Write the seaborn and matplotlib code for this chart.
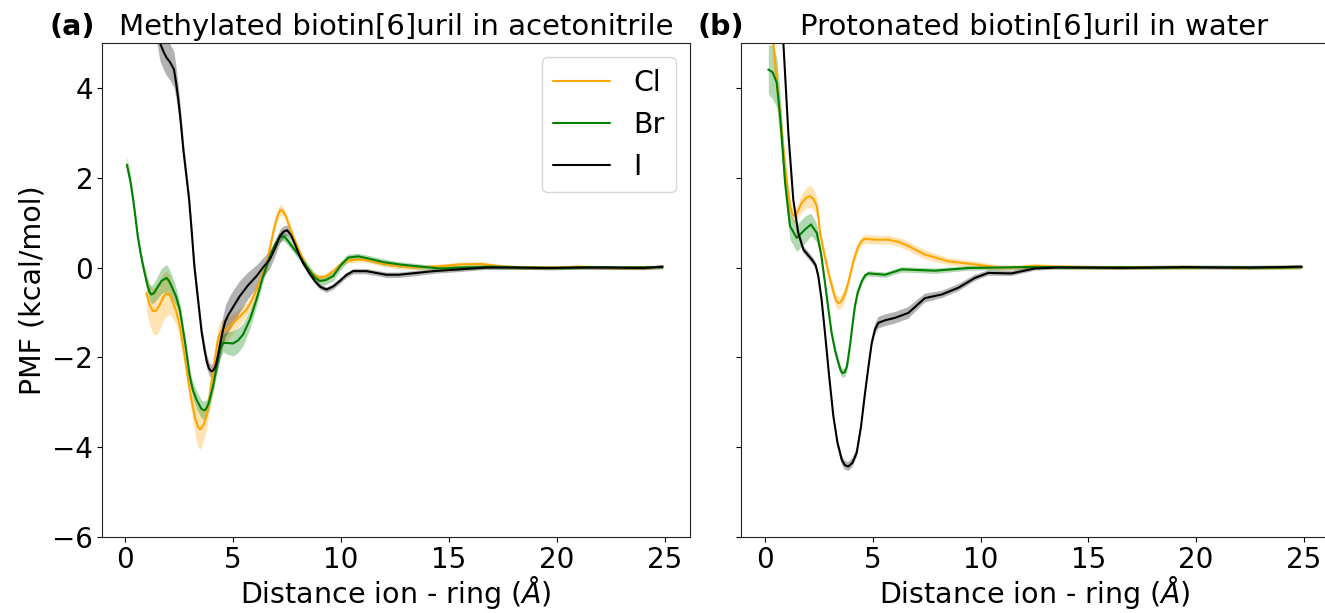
import numpy as np
import pandas as pd
import matplotlib
matplotlib.use("Agg")
import matplotlib.pyplot as plt
import seaborn as sns

# ---------------- data ----------------
ions = ["Cl", "Br", "I"]
colors = {"Cl": "orange", "Br": "green", "I": "black"}

# (a) Methylated biotin[6]uril in acetonitrile
a_cl_x = [1.0, 1.15, 1.3, 1.45, 1.6, 1.78, 1.93, 2.1, 2.25, 2.4, 2.55, 2.75, 2.93, 3.05, 3.15, 3.27, 3.39, 3.47, 3.55, 3.67,
          3.78, 3.9, 4.0, 4.17, 4.33, 4.45, 4.72, 5.0, 5.2, 5.65, 5.9, 6.11, 6.35, 6.57, 6.75, 6.9, 7.05, 7.19, 7.3, 7.45,
          7.6, 7.79, 8.1, 8.41, 8.7, 8.95, 9.3, 9.65, 9.95, 10.26, 10.8, 11.2, 12.0, 12.7, 13.5, 14.6, 15.5, 16.5, 17.5, 18.5,
          20.0, 21.0, 22.0, 23.0, 24.0, 24.9]
a_cl_y = [-0.57, -0.82, -0.97, -0.96, -0.85, -0.66, -0.57, -0.62, -0.8, -1.0, -1.31, -1.9, -2.49, -2.85, -3.1, -3.38, -3.55, -3.6, -3.58, -3.48,
          -3.31, -2.98, -2.6, -2.05, -1.55, -1.42, -1.38, -1.25, -1.15, -0.93, -0.72, -0.48, -0.18, 0.11, 0.5, 0.85, 1.12, 1.28, 1.27, 1.15,
          0.95, 0.70, 0.35, 0.03, -0.15, -0.22, -0.2, -0.08, 0.05, 0.15, 0.18, 0.17, 0.08, 0.03, 0.0, 0.03, 0.07, 0.08, 0.02, 0.0,
          0.0, 0.02, 0.0, -0.01, 0.0, 0.02]
a_cl_e = [0.4, 0.45, 0.5, 0.55, 0.55, 0.52, 0.5, 0.42, 0.35, 0.3, 0.25, 0.22, 0.2, 0.25, 0.3, 0.38, 0.45, 0.45, 0.4, 0.35,
          0.3, 0.27, 0.25, 0.25, 0.25, 0.25, 0.25, 0.22, 0.2, 0.15, 0.13, 0.12, 0.1, 0.1, 0.1, 0.1, 0.11, 0.12, 0.11, 0.1,
          0.09, 0.08, 0.07, 0.06, 0.06, 0.06, 0.06, 0.06, 0.06, 0.06, 0.06, 0.06, 0.06, 0.06, 0.05, 0.05, 0.05, 0.05, 0.05, 0.04,
          0.04, 0.04, 0.04, 0.04, 0.04, 0.04]

a_br_x = [0.1, 0.25, 0.39, 0.5, 0.6, 0.72, 0.85, 1.05, 1.15, 1.23, 1.35, 1.5, 1.7, 1.93, 2.05, 2.2, 2.38, 2.55, 2.8, 3.01,
          3.15, 3.32, 3.55, 3.70, 3.8, 3.9, 4.09, 4.3, 4.42, 4.55, 4.75, 5.01, 5.25, 5.48, 5.8, 6.1, 6.4, 6.71, 7.0, 7.15,
          7.33, 7.5, 7.7, 8.1, 8.6, 8.8, 9.03, 9.3, 9.65, 10.0, 10.34, 10.8, 11.2, 12.0, 12.7, 13.5, 14.6, 15.5, 17.0, 18.5,
          20.0, 21.5, 23.0, 24.9]
a_br_y = [2.29, 1.95, 1.51, 1.1, 0.7, 0.35, 0.03, -0.4, -0.55, -0.6, -0.57, -0.45, -0.3, -0.23, -0.3, -0.45, -0.65, -0.94, -1.7, -2.42,
          -2.72, -2.94, -3.15, -3.18, -3.12, -3.0, -2.64, -2.1, -1.82, -1.68, -1.68, -1.69, -1.62, -1.49, -1.15, -0.71, -0.2, 0.25, 0.55, 0.66,
          0.70, 0.63, 0.5, 0.25, -0.1, -0.22, -0.30, -0.28, -0.19, 0.05, 0.22, 0.25, 0.21, 0.12, 0.07, 0.03, -0.02, 0.0, 0.02, 0.0,
          -0.01, 0.01, 0.0, 0.01]
a_br_e = [0.18, 0.15, 0.12, 0.12, 0.12, 0.12, 0.12, 0.15, 0.18, 0.2, 0.22, 0.25, 0.28, 0.3, 0.28, 0.25, 0.2, 0.15, 0.15, 0.15,
          0.17, 0.2, 0.2, 0.2, 0.19, 0.18, 0.15, 0.18, 0.2, 0.2, 0.25, 0.28, 0.27, 0.25, 0.2, 0.15, 0.12, 0.1, 0.1, 0.1,
          0.1, 0.1, 0.1, 0.1, 0.1, 0.1, 0.1, 0.1, 0.1, 0.1, 0.08, 0.07, 0.07, 0.07, 0.06, 0.06, 0.05, 0.05, 0.05, 0.04,
          0.04, 0.04, 0.04, 0.04]

a_i_x = [0.6, 1.2, 1.63, 1.8, 1.94, 2.1, 2.28, 2.38, 2.48, 2.6, 2.71, 2.85, 2.98, 3.1, 3.22, 3.4, 3.56, 3.7, 3.8, 3.9,
         4.01, 4.1, 4.2, 4.3, 4.40, 4.52, 4.65, 4.8, 4.94, 5.32, 5.7, 6.1, 6.4, 6.71, 6.95, 7.18, 7.35, 7.52, 7.7, 7.9,
         8.08, 8.26, 8.55, 8.8, 9.05, 9.34, 9.65, 9.95, 10.25, 10.57, 11.19, 12.1, 12.7, 13.5, 14.3, 15.5, 16.7, 18.0, 19.5, 21.0,
         22.5, 24.0, 24.9]
a_i_y = [8.5, 6.2, 5.0, 4.8, 4.67, 4.57, 4.41, 4.1, 3.74, 3.2, 2.63, 2.05, 1.51, 0.8, 0.04, -0.75, -1.44, -1.85, -2.1, -2.25,
         -2.31, -2.29, -2.2, -2.0, -1.75, -1.45, -1.2, -1.05, -0.94, -0.64, -0.4, -0.19, 0.0, 0.18, 0.42, 0.70, 0.8, 0.83, 0.72, 0.5,
         0.28, 0.10, -0.13, -0.3, -0.43, -0.49, -0.42, -0.30, -0.17, -0.08, -0.08, -0.16, -0.16, -0.12, -0.08, -0.04, 0.0, 0.0, -0.01, 0.0,
         0.0, -0.01, 0.02]
a_i_e = [0.4, 0.4, 0.4, 0.4, 0.4, 0.4, 0.4, 0.35, 0.3, 0.25, 0.2, 0.17, 0.15, 0.15, 0.15, 0.15, 0.15, 0.15, 0.15, 0.15,
         0.15, 0.17, 0.2, 0.25, 0.3, 0.33, 0.35, 0.37, 0.38, 0.35, 0.3, 0.25, 0.22, 0.2, 0.17, 0.15, 0.13, 0.12, 0.1, 0.08,
         0.07, 0.07, 0.06, 0.06, 0.06, 0.06, 0.06, 0.06, 0.06, 0.06, 0.06, 0.06, 0.06, 0.06, 0.05, 0.05, 0.04, 0.04, 0.04, 0.04,
         0.04, 0.04, 0.04]

# (b) Protonated biotin[6]uril in water
b_cl_x = [0.1, 0.38, 0.62, 0.93, 1.05, 1.16, 1.27, 1.39, 1.55, 1.70, 1.9, 2.09, 2.25, 2.40, 2.48, 2.55, 2.75, 2.94, 3.2, 3.30,
          3.40, 3.5, 3.6, 3.73, 3.86, 4.1, 4.33, 4.5, 4.64, 5.10, 5.72, 6.2, 6.65, 7.42, 8.50, 9.74, 10.82, 11.6, 12.52, 13.5,
          15.0, 16.5, 18.0, 19.5, 21.0, 22.5, 24.0, 24.9]
b_cl_y = [7.5, 5.0, 3.74, 2.26, 1.75, 1.37, 1.18, 1.14, 1.28, 1.44, 1.55, 1.59, 1.52, 1.37, 1.1, 0.77, 0.3, -0.12, -0.6, -0.74,
          -0.79, -0.77, -0.7, -0.55, -0.34, 0.15, 0.48, 0.6, 0.64, 0.62, 0.62, 0.57, 0.48, 0.29, 0.14, 0.07, 0.0, 0.0, 0.04, 0.02,
          0.01, 0.0, 0.01, 0.0, 0.01, -0.01, 0.0, 0.01]
b_cl_e = [0.3, 0.3, 0.3, 0.25, 0.2, 0.18, 0.16, 0.15, 0.17, 0.2, 0.23, 0.25, 0.23, 0.2, 0.15, 0.12, 0.12, 0.12, 0.14, 0.15,
          0.15, 0.15, 0.14, 0.13, 0.12, 0.1, 0.1, 0.1, 0.1, 0.1, 0.1, 0.1, 0.1, 0.1, 0.08, 0.07, 0.06, 0.05, 0.05, 0.05,
          0.04, 0.04, 0.04, 0.04, 0.04, 0.04, 0.04, 0.04]

b_br_x = [0.15, 0.35, 0.54, 0.70, 0.93, 1.16, 1.47, 1.86, 2.13, 2.40, 2.6, 2.78, 2.93, 3.09, 3.25, 3.40, 3.5, 3.59, 3.7, 3.8,
          3.95, 4.05, 4.17, 4.3, 4.49, 4.65, 4.79, 5.57, 6.34, 7.88, 9.43, 10.8, 12.0, 13.5, 15.0, 16.5, 18.0, 19.5, 21.0, 22.5,
          24.0, 24.9]
b_br_y = [4.41, 4.35, 4.12, 3.37, 1.89, 0.92, 0.66, 0.85, 0.96, 0.77, 0.3, -0.34, -0.9, -1.46, -1.85, -2.12, -2.28, -2.35, -2.33, -2.2,
          -1.7, -1.3, -0.86, -0.55, -0.30, -0.17, -0.13, -0.16, -0.04, -0.07, -0.01, 0.0, 0.01, 0.01, 0.0, 0.01, 0.0, 0.0, 0.01, 0.0,
          0.0, 0.01]
b_br_e = [0.55, 0.6, 0.55, 0.5, 0.35, 0.3, 0.3, 0.3, 0.25, 0.2, 0.12, 0.08, 0.08, 0.08, 0.09, 0.1, 0.1, 0.1, 0.1, 0.1,
          0.1, 0.09, 0.08, 0.07, 0.07, 0.06, 0.06, 0.06, 0.06, 0.06, 0.05, 0.05, 0.04, 0.04, 0.04, 0.04, 0.04, 0.04, 0.04, 0.04,
          0.04, 0.04]

b_i_x = [0.1, 0.5, 0.85, 1.08, 1.31, 1.54, 1.78, 2.17, 2.35, 2.47, 2.62, 2.78, 2.97, 3.17, 3.36, 3.56, 3.7, 3.86, 4.05, 4.25,
         4.45, 4.64, 4.8, 4.95, 5.1, 5.26, 5.6, 6.03, 6.65, 7.42, 8.20, 8.97, 9.74, 10.36, 11.44, 12.52, 13.5, 15.0, 16.5, 18.0,
         19.5, 21.0, 22.5, 24.0, 24.9]
b_i_y = [12.0, 8.0, 5.0, 3.0, 1.51, 0.77, 0.40, 0.18, 0.05, -0.19, -0.7, -1.45, -2.4, -3.31, -3.9, -4.28, -4.4, -4.43, -4.35, -4.13,
         -3.55, -2.79, -2.2, -1.68, -1.38, -1.23, -1.17, -1.12, -1.01, -0.68, -0.60, -0.45, -0.23, -0.12, -0.13, -0.02, 0.0, 0.0, -0.01, 0.0,
         0.01, 0.0, 0.0, 0.01, 0.02]
b_i_e = [0.1, 0.1, 0.1, 0.08, 0.08, 0.08, 0.08, 0.08, 0.08, 0.08, 0.08, 0.08, 0.09, 0.09, 0.1, 0.1, 0.1, 0.1, 0.1, 0.1,
         0.1, 0.1, 0.1, 0.1, 0.12, 0.13, 0.13, 0.13, 0.13, 0.1, 0.08, 0.08, 0.07, 0.06, 0.06, 0.05, 0.04, 0.04, 0.04, 0.04,
         0.04, 0.04, 0.04, 0.04, 0.04]

titles = ["Methylated biotin[6]uril in acetonitrile", "Protonated biotin[6]uril in water"]
panel_labels = ["(a)", "(b)"]
xlabel = "Distance ion - ring ($\\AA$)"
ylabel = "PMF (kcal/mol)"

panels = [
    {"Cl": (a_cl_x, a_cl_y, a_cl_e), "Br": (a_br_x, a_br_y, a_br_e), "I": (a_i_x, a_i_y, a_i_e)},
    {"Cl": (b_cl_x, b_cl_y, b_cl_e), "Br": (b_br_x, b_br_y, b_br_e), "I": (b_i_x, b_i_y, b_i_e)},
]
for p in panels:
    for ion in ions:
        assert len(p[ion][0]) == len(p[ion][1]) == len(p[ion][2]), ion

# ---------------- plot ----------------
sns.set_style("ticks")
plt.rcParams["font.family"] = ["DejaVu Sans"]
plt.rcParams["mathtext.fontset"] = "dejavusans"
for key in ["text.color", "axes.labelcolor", "xtick.color", "ytick.color"]:
    plt.rcParams[key] = "black"
plt.rcParams["axes.edgecolor"] = "#222222"
FS = 20.5
TITLE_FS = 21
TFS = 20

fig, axes = plt.subplots(1, 2, figsize=(13.25, 6.13), dpi=100, sharey=True)
W = 587.7 / 1325
B = 1 - 537 / 613
H = (537 - 43) / 613
axes[0].set_position([102.3 / 1325, B, W, H])
axes[1].set_position([740.7 / 1325, B, W, H])

for k, ax in enumerate(axes):
    rows = []
    for ion in ions:
        xs, ys, es = panels[k][ion]
        for xv, yv in zip(xs, ys):
            rows.append({"x": xv, "pmf": yv, "ion": ion})
    df = pd.DataFrame(rows)
    for ion in ions:
        xs, ys, es = panels[k][ion]
        ys = np.array(ys)
        es = np.array(es)
        ax.fill_between(xs, ys - es, ys + es, color=colors[ion], alpha=0.3, lw=0)
    sns.lineplot(data=df, x="x", y="pmf", hue="ion", hue_order=ions, palette=colors,
                 errorbar=None, sort=False, lw=1.5, ax=ax, legend=(k == 0))
    ax.set_ylim(-6, 5)
    ax.set_xlim(-1.04 if k == 0 else -1.13, 26.17 if k == 0 else 26.14)
    ax.set_xticks([0, 5, 10, 15, 20, 25])
    ax.set_yticks([-6, -4, -2, 0, 2, 4])
    ax.tick_params(labelsize=TFS, pad=3)
    ax.set_xlabel(xlabel, fontsize=FS, labelpad=0)
    ax.set_title(titles[k], fontsize=TITLE_FS)
    ax.annotate(panel_labels[k], xy=(-0.089 if k == 0 else -0.074, 1.0), xycoords="axes fraction",
                xytext=(0, 6), textcoords="offset points", fontsize=FS, fontweight="bold",
                ha="left", va="baseline")
    for sp in ax.spines.values():
        sp.set_visible(True)

axes[0].set_ylabel(ylabel, fontsize=FS)
axes[1].set_ylabel("")
sns.move_legend(axes[0], "upper right", title=None, fontsize=FS, frameon=True)

fig.savefig("out.png", dpi=100)
